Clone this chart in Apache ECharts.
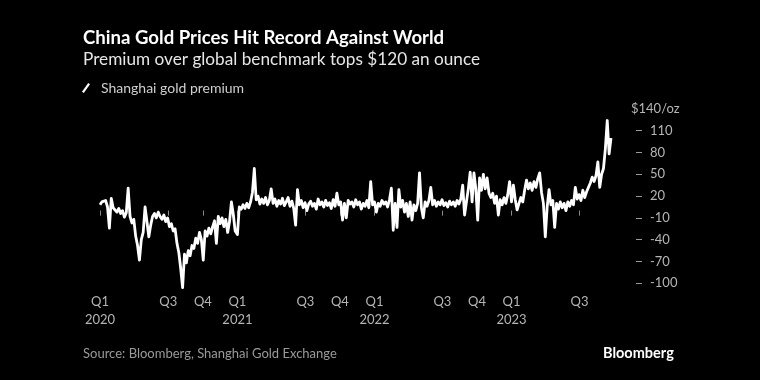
<!DOCTYPE html>
<html><head><meta charset="utf-8">
<script src="https://cdn.jsdelivr.net/npm/echarts@6/dist/echarts.min.js"></script>
<style>html,body{margin:0;padding:0;background:#000}#c{width:760px;height:380px}</style>
</head><body><div id="c"></div>
<script>
// Shanghai gold premium, $/oz, one reading every 5 calendar days from each start date
const stepDays = 5;
const start2020 = [2020, 0, 1];
const premium2020 = [8,12,10,14,5,-24,17,4,6,-2,3,-4,0,-9,-3,31,-8,-17,-12,-35,-48,-68,-40,-30,5,-15,-36,-20,-8,-4,-10,-2,-8,-12,-6,-15,-10,-22,-18,-28,-25,-45,-58,-80,-106,-60,-72,-55,-62,-48,-52,-38,-45,-30,-40,-68,-28,-35,-24,-32,-22,-14,-45,-8,-18,-10,-22,-12,-30,-15,12,-5,-28];
const start2021 = [2021, 0, 1];
const premium2021 = [-33,5,2,8,3,10,4,12,25,58,15,20,9,16,10,18,8,14,30,10,16,6,14,9,17,7,12,18,6,13,3,-20,29,8,14,4,11,0,9,13,6,10,2,16,8,12,5,14,7,11,3,15,6,24,8,12,-13,10,-10,14,9,12,5,15,8,12,2,10,6,14,4,40,8];
const start2022 = [2022, 0, 1];
const premium2022 = [12,-2,10,6,14,9,12,5,15,31,-27,10,-23,29,5,14,-2,10,-8,12,-13,8,0,10,52,4,-10,12,6,14,32,8,14,6,12,8,15,7,11,5,13,8,12,6,14,9,16,35,-6,12,30,53,12,52,30,-13,45,28,50,30,45,24,18,24,10,20,-6,15,8,18,10,22,40];
const start2023 = [2023, 0, 1];
const premium2023 = [12,35,15,1,10,18,12,28,42,30,38,28,40,32,44,52,25,10,-36,5,29,8,14,-23,10,2,12,4,10,0,12,6,14,8,32,16,22,14,28,18,26,32,38,46,40,48,67,32,50,58,85,124,78,100];

const xMin = '2020-01-01', xMax = '2023-10-01';
const quarterTicks = ['2020-01-01','2020-07-01','2020-10-01','2021-01-01','2021-07-01','2021-10-01','2022-01-01','2022-07-01','2022-10-01','2023-01-01','2023-07-01'];
const yTicks = [-100,-70,-40,-10,20,50,80,110];
const yTopLabel = 140;

const ts = s => { const p = s.split('-'); return Date.UTC(+p[0], +p[1]-1, +p[2]); };
function build(start, vals) {
  return vals.map((v, i) => [Date.UTC(start[0], start[1], start[2] + stepDays * i), v]);
}
const seriesData = [].concat(build(start2020, premium2020), build(start2021, premium2021), build(start2022, premium2022), build(start2023, premium2023));
const tickTs = quarterTicks.map(ts);

const FONT = 'Lato';
const chart = echarts.init(document.getElementById('c'));
chart.setOption({
  backgroundColor: '#000',
  animation: false,
  textStyle: { fontFamily: FONT },
  title: [
    { text: 'China Gold Prices Hit Record Against World', subtext: 'Premium over global benchmark tops $120 an ounce',
      left: 78, top: 22, itemGap: 1,
      textStyle: { color: '#fff', fontWeight: 'bold', fontSize: 18.6, fontFamily: FONT, lineHeight: 21 },
      subtextStyle: { color: '#e6e6e6', fontSize: 17.2, fontFamily: FONT, lineHeight: 20 } },
    { text: 'Source: Bloomberg, Shanghai Gold Exchange', left: 78, top: 342,
      textStyle: { color: '#9a9a9a', fontSize: 13, fontWeight: 'normal', fontFamily: FONT } },
    { text: 'Bloomberg', left: 598, top: 341,
      textStyle: { color: '#fff', fontSize: 14.5, fontWeight: 'bold', fontFamily: FONT } }
  ],
  legend: {
    left: 77, top: 76, itemWidth: 8, itemHeight: 10,
    icon: 'path://M6.2,0 L8,1.3 L1.8,10 L0,8.7 Z',
    formatter: n => '{a|' + n + '}',
    textStyle: { color: '#cfcfcf', fontSize: 14, fontFamily: FONT,
      rich: { a: { color: '#cfcfcf', fontSize: 14, fontFamily: FONT, padding: [0, 0, 0, 6] } } },
    data: [{ name: 'Shanghai gold premium', itemStyle: { color: '#fff' } }]
  },
  grid: { left: 100, right: 146, top: 108.9, bottom: 96.7, containLabel: false },
  xAxis: {
    type: 'value', min: ts(xMin), max: ts(xMax), offset: 1,
    axisLine: { show: false },
    splitLine: { show: false },
    axisTick: { show: true, length: 5, customValues: tickTs, lineStyle: { color: '#8a8a8a' } },
    axisLabel: { customValues: tickTs, color: '#b5b5b5', fontSize: 13, margin: 9, lineHeight: 18, hideOverlap: false,
      formatter: function (v) { const d = new Date(v); const m = d.getUTCMonth(); const q = Math.floor(m / 3) + 1;
        return m === 0 ? 'Q1\n' + d.getUTCFullYear() : 'Q' + q; } }
  },
  yAxis: [
    { type: 'value', position: 'right', min: -100, max: 140, interval: 30, offset: 22,
      axisLine: { show: false }, splitLine: { show: false },
      axisTick: { show: true, length: 6, customValues: yTicks, lineStyle: { color: '#9a9a9a' } },
      axisLabel: { customValues: yTicks, color: '#b5b5b5', fontSize: 13, margin: 14 } },
    { type: 'value', position: 'right', min: -100, max: 140, interval: 30, offset: 11,
      axisLine: { show: false }, splitLine: { show: false }, axisTick: { show: false },
      axisLabel: { customValues: [yTopLabel], color: '#b5b5b5', fontSize: 13, margin: 6,
        formatter: v => '$' + v + '/oz' } }
  ],
  series: [{
    name: 'Shanghai gold premium', type: 'line', data: seriesData, yAxisIndex: 0,
    showSymbol: false, symbol: 'none', clip: false, smooth: false,
    lineStyle: { color: '#fff', width: 2.8, join: 'round' }, itemStyle: { color: '#fff' }
  }]
});
</script></body></html>
